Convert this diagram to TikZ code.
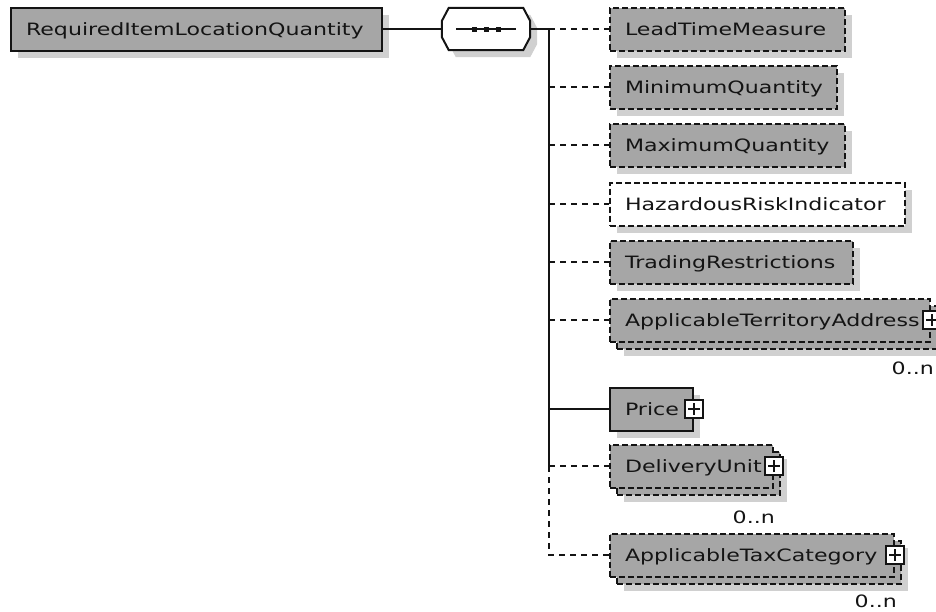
\documentclass[tikz,border=0pt]{standalone}
\usepackage{fontspec}
\newfontfamily\boxfont[FakeStretch=1.30]{DejaVu Sans}
\usetikzlibrary{calc,shadows}
\definecolor{boxgray}{RGB}{166,166,166}
\definecolor{shadowgray}{RGB}{208,208,208}
\definecolor{ink}{RGB}{20,20,20}
\tikzset{
  lw/.style={line width=2pt},
  dsh/.style={dash pattern=on 6pt off 3pt},
  base/.style={anchor=west, draw=ink, lw, fill=boxgray, minimum height=43pt,
    inner xsep=15pt, inner ysep=0pt, text height=13pt, text depth=0pt, align=left, text=ink,
    font=\boxfont\fontsize{17}{20}\selectfont},
  oneshadow/.style={general shadow={fill=shadowgray, shadow xshift=7pt, shadow yshift=-7pt}},
  solidbox/.style={base, oneshadow},
  optbox/.style={base, dsh, oneshadow},
  multibox/.style={base, dsh,
    general shadow={fill=shadowgray, shadow xshift=14pt, shadow yshift=-14pt},
    general shadow={fill=boxgray, draw=ink, line width=2pt, dash pattern=on 6pt off 3pt,
      shadow xshift=7pt, shadow yshift=-7pt}},
  conn/.style={draw=ink, lw},
  dconn/.style={draw=ink, lw, dash pattern=on 6pt off 5pt},
  plusbox/.style={draw=ink, fill=white, line width=1.8pt, minimum size=18pt, inner sep=0pt,
    path picture={\draw[line width=1.8pt, ink]
      ($(path picture bounding box.center)+(-6pt,0pt)$) -- ($(path picture bounding box.center)+(6pt,0pt)$)
      ($(path picture bounding box.center)+(0pt,-6pt)$) -- ($(path picture bounding box.center)+(0pt,6pt)$);}},
  mult/.style={anchor=east, inner sep=0pt, text=ink, font=\boxfont\fontsize{17}{20}\selectfont},
}
\newcommand\octpath[1]{($(seq.west)+#1+(0,-8)$) -- ($(seq.north west)+#1+(7,0)$) -- ($(seq.north east)+#1+(-7,0)$) -- ($(seq.east)+#1+(0,-8)$) -- ($(seq.east)+#1+(0,8)$) -- ($(seq.south east)+#1+(-7,0)$) -- ($(seq.south west)+#1+(7,0)$) -- ($(seq.west)+#1+(0,8)$) -- cycle}
\begin{document}
\begin{tikzpicture}[x=1pt, y=-1pt]
\useasboundingbox (0,0) rectangle (936,611);
\clip (0,0) rectangle (936,611);

% root
\node[solidbox, text width=341pt] (root) at (10,29) {RequiredItemLocationQuantity};

% sequence compositor
\node[minimum width=88pt, minimum height=42pt, inner sep=0pt] (seq) at (486,29) {};
\fill[shadowgray] \octpath{(7,7)};
\draw[lw, draw=ink, fill=white] \octpath{(0,0)};
\draw[lw, draw=ink] ($(seq.center)+(-30,0)$) -- ($(seq.center)+(30,0)$);
\foreach \dx in {-12,0,12}{
  \fill[ink] ($(seq.center)+(\dx-2.5,-2.5)$) rectangle ($(seq.center)+(\dx+2.5,2.5)$);
}

% children
\node[optbox, text width=205pt] (ltm) at (609,29) {LeadTimeMeasure};
\node[optbox, text width=197pt] (min) at (609,87) {MinimumQuantity};
\node[optbox, text width=205pt] (max) at (609,145) {MaximumQuantity};
\node[optbox, fill=white, text width=265pt] (haz) at (609,204) {HazardousRiskIndicator};
\node[optbox, text width=213pt] (trd) at (609,262) {TradingRestrictions};
\node[multibox, text width=290pt] (ter) at (609,320) {ApplicableTerritoryAddress};
\node[solidbox, text width=53pt] (price) at (609,409) {Price};
\node[multibox, text width=133pt] (du) at (609,466) {DeliveryUnit};
\node[multibox, text width=254pt] (tax) at (609,555) {ApplicableTaxCategory};

% expand boxes
\node[plusbox] (terP) at ($(ter.east)+(1,0)$) {};
\node[plusbox] (priceP) at (price.east) {};
\node[plusbox] (duP) at (du.east) {};
\node[plusbox] (taxP) at (tax.east) {};

% multiplicities
\node[mult] (terN) at ($(ter.south east)+(3,26)$) {0..n};
\node[mult] (duN) at ($(du.south east)+(1,29)$) {0..n};
\node[mult] (taxN) at ($(tax.south east)+(2,24)$) {0..n};

% connectors
\coordinate (bus) at (549,29);
\draw[conn] (root.east) -- (root.east -| seq.west);
\draw[conn] (seq.east) -- (bus) -- (bus |- du.west);
\draw[dconn] (bus |- du.west) -- (bus |- tax.west) -- (tax.west);
\draw[dconn] (bus |- ltm.west) -- (ltm.west);
\draw[dconn] (bus |- min.west) -- (min.west);
\draw[dconn] (bus |- max.west) -- (max.west);
\draw[dconn] (bus |- haz.west) -- (haz.west);
\draw[dconn] (bus |- trd.west) -- (trd.west);
\draw[dconn] (bus |- ter.west) -- (ter.west);
\draw[conn] (bus |- price.west) -- (price.west);
\draw[dconn] (bus |- du.west) -- (du.west);
\end{tikzpicture}
\end{document}
